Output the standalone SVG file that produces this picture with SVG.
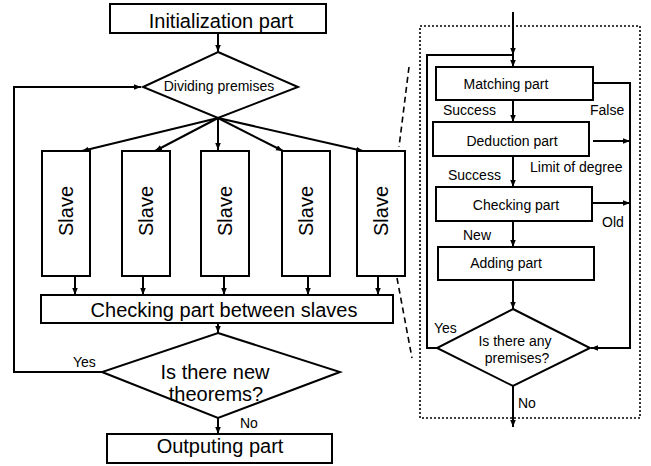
<svg xmlns="http://www.w3.org/2000/svg" width="651" height="466" viewBox="0 0 651 466">
<style>
.b{fill:#fff;stroke:#000;stroke-width:2}
.c{fill:none;stroke:#000;stroke-width:2}
.t{font-family:"Liberation Sans",Arial,sans-serif;fill:#000}
.l{font-size:20px;text-anchor:middle}
.m{font-size:14px;text-anchor:middle}
.s{font-size:14px}
.dot{fill:none;stroke:#000;stroke-width:1.6;stroke-dasharray:2,2}
.dash{fill:none;stroke:#000;stroke-width:1.6;stroke-dasharray:6,4}
</style>
<defs>
<marker id="a" markerWidth="8" markerHeight="6" refX="7" refY="2.75" orient="auto" markerUnits="userSpaceOnUse">
<path d="M0,0 L7,2.75 L0,5.5 z" fill="#000"/>
</marker>
</defs>
<rect class="b" x="0" y="0" width="651" height="466" style="stroke:none"/>
<g id="connectors">
<path class="c" d="M218,33 V52" marker-end="url(#a)"/>
<path class="c" d="M102,372 H14 V87 H141" marker-end="url(#a)"/>
<path class="c" d="M218,118 L82,151" marker-end="url(#a)"/>
<path class="c" d="M218,118 L155,151" marker-end="url(#a)"/>
<path class="c" d="M218,118 L218,150" marker-end="url(#a)"/>
<path class="c" d="M218,118 L283,151" marker-end="url(#a)"/>
<path class="c" d="M218,118 L363,151" marker-end="url(#a)"/>
<path class="c" d="M75,276 V295" marker-end="url(#a)"/>
<path class="c" d="M143,276 V295" marker-end="url(#a)"/>
<path class="c" d="M224,276 V295" marker-end="url(#a)"/>
<path class="c" d="M308,276 V295" marker-end="url(#a)"/>
<path class="c" d="M378,276 V295" marker-end="url(#a)"/>
<path class="c" d="M218,323 V333" marker-end="url(#a)"/>
<path class="c" d="M218,418 V434" marker-end="url(#a)"/>
<path class="dash" d="M409,67 L399,147"/>
<path class="dash" d="M397,278 L412,358"/>
<path class="c" d="M513,12 V55" marker-end="url(#a)"/>
<path class="c" d="M437,348 H427 V55 H513 V67" marker-end="url(#a)"/>
<path class="c" d="M513,100 V122" marker-end="url(#a)"/>
<path class="c" d="M513,156 V187" marker-end="url(#a)"/>
<path class="c" d="M513,221 V247" marker-end="url(#a)"/>
<path class="c" d="M513,280 V309" marker-end="url(#a)"/>
<path class="c" d="M513,386 V427" marker-end="url(#a)"/>
<path class="c" d="M593,83 H630 V348 H591" marker-end="url(#a)"/>
<path class="c" d="M593,141 H630" marker-end="url(#a)"/>
<path class="c" d="M592,203 H630" marker-end="url(#a)"/>
</g>
<rect id="detail-frame" class="dot" x="420" y="26" width="220" height="392"/>
<g id="init"><rect class="b" x="110" y="4" width="216" height="29"/><text class="t l" x="221" y="28">Initialization part</text></g>
<g id="divide"><path class="b" d="M218,52 L298,87 L218,118 L143,87 z"/><text class="t m" x="219" y="91">Dividing premises</text></g>
<g id="slave1"><rect class="b" x="42" y="151" width="48" height="125"/><text class="t l" transform="translate(66,211) rotate(-90)" x="0" y="7">Slave</text></g>
<g id="slave2"><rect class="b" x="122" y="151" width="48" height="125"/><text class="t l" transform="translate(146,211) rotate(-90)" x="0" y="7">Slave</text></g>
<g id="slave3"><rect class="b" x="201" y="151" width="48" height="125"/><text class="t l" transform="translate(225,211) rotate(-90)" x="0" y="7">Slave</text></g>
<g id="slave4"><rect class="b" x="282" y="151" width="48" height="125"/><text class="t l" transform="translate(306,211) rotate(-90)" x="0" y="7">Slave</text></g>
<g id="slave5"><rect class="b" x="357" y="151" width="48" height="125"/><text class="t l" transform="translate(381,211) rotate(-90)" x="0" y="7">Slave</text></g>
<g id="check-slaves"><rect class="b" x="41" y="295" width="352" height="28"/><text class="t l" x="224" y="317">Checking part between slaves</text></g>
<g id="new-theorems"><path class="b" d="M218,333 L340,372 L218,418 L102,372 z"/><text class="t l" x="215" y="379">Is there new</text><text class="t l" x="216" y="401">theorems?</text></g>
<g id="output"><rect class="b" x="107" y="434" width="225" height="29"/><text class="t l" x="220" y="453">Outputing part</text></g>
<text class="t s" x="73" y="367">Yes</text>
<text class="t s" x="240" y="428">No</text>
<g id="matching"><rect class="b" x="436" y="67" width="157" height="33"/><text class="t m" x="506" y="89">Matching part</text></g>
<g id="deduction"><rect class="b" x="433" y="122" width="156" height="34"/><text class="t m" x="512" y="146">Deduction part</text></g>
<g id="checking"><rect class="b" x="436" y="187" width="156" height="34"/><text class="t m" x="516" y="210">Checking part</text></g>
<g id="adding"><rect class="b" x="438" y="247" width="156" height="33"/><text class="t m" x="506" y="268">Adding part</text></g>
<g id="any-premises"><path class="b" d="M513,309 L590,348 L513,386 L437,348 z"/><text class="t m" x="515" y="346">Is there any</text><text class="t m" x="517" y="363">premises?</text></g>
<text class="t s" x="443" y="115">Success</text>
<text class="t s" x="590" y="115">False</text>
<text class="t s" x="448" y="180">Success</text>
<text class="t s" x="530" y="172">Limit of degree</text>
<text class="t s" x="602" y="227">Old</text>
<text class="t s" x="463" y="240">New</text>
<text class="t s" x="434" y="333">Yes</text>
<text class="t s" x="518" y="408">No</text>
</svg>
